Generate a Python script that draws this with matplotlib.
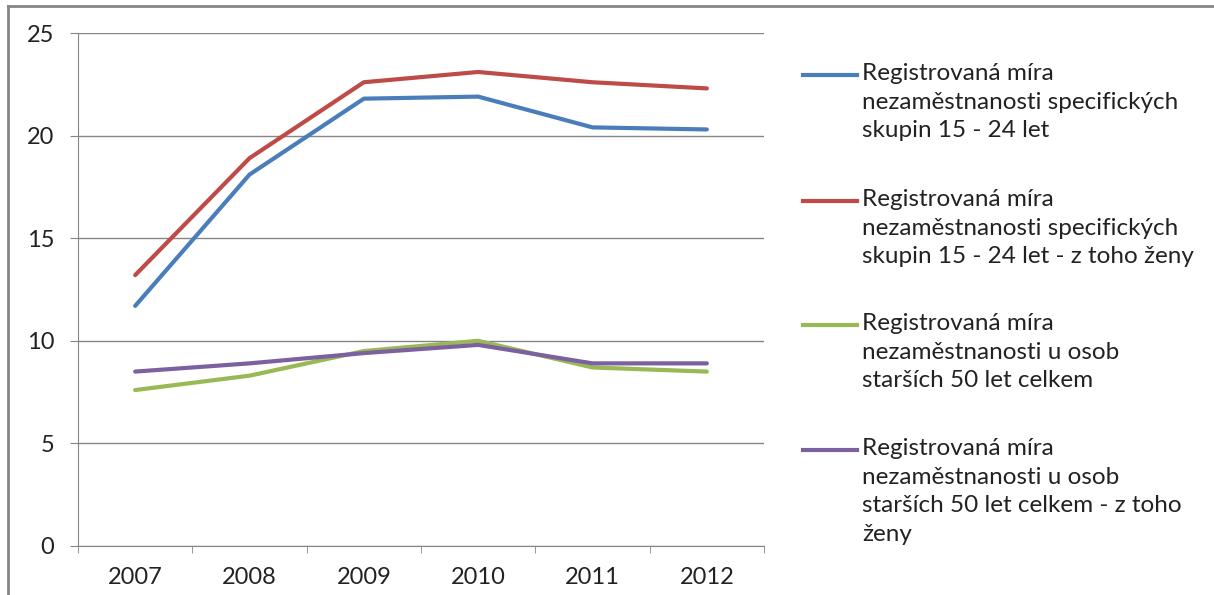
import matplotlib
matplotlib.use('Agg')
import matplotlib.pyplot as plt
from matplotlib.lines import Line2D

plt.rcParams['font.family'] = ['Lato', 'DejaVu Sans']

# data
years = ['2007', '2008', '2009', '2010', '2011', '2012']
mladi = [11.7, 18.1, 21.8, 21.9, 20.4, 20.3]
mladi_zeny = [13.2, 18.9, 22.6, 23.1, 22.6, 22.3]
starsi = [7.6, 8.3, 9.5, 10.0, 8.7, 8.5]
starsi_zeny = [8.5, 8.9, 9.4, 9.8, 8.9, 8.9]

labels = ['Registrovaná míra\nnezaměstnanosti specifických\nskupin 15 - 24 let',
          'Registrovaná míra\nnezaměstnanosti specifických\nskupin 15 - 24 let - z toho ženy',
          'Registrovaná míra\nnezaměstnanosti u osob\nstarších 50 let celkem',
          'Registrovaná míra\nnezaměstnanosti u osob\nstarších 50 let celkem - z toho\nženy']
colors = ['#4A7EBB', '#BE4B48', '#98B954', '#7D60A0']
series = [mladi, mladi_zeny, starsi, starsi_zeny]

W, H = 1214, 595
fig = plt.figure(figsize=(W / 100, H / 100), dpi=100)
ax = fig.add_axes([78 / W, 1 - 546 / H, (764 - 78) / W, (546 - 33) / H])

x = list(range(len(years)))
for s, c in zip(series, colors):
    ax.plot(x, s, color=c, lw=3, solid_capstyle='round', solid_joinstyle='round', zorder=3)

gray = '#868686'
txt = '#222222'
ax.set_xlim(-0.5, len(years) - 0.5)
ax.set_ylim(0, 25)
ax.set_yticks([0, 5, 10, 15, 20, 25])
ax.yaxis.grid(True, color=gray, lw=1)
ax.set_axisbelow(True)
ax.set_xticks(x)
ax.set_xticklabels(years)
ax.set_xticks([i - 0.5 for i in range(len(years) + 1)], minor=True)
ax.tick_params(axis='x', which='major', length=0, pad=15, labelsize=17, colors=txt)
ax.tick_params(axis='x', which='minor', length=5, direction='out', color=gray)
ax.tick_params(axis='y', length=6, direction='out', color=gray, pad=11, labelsize=17, labelcolor=txt)
for sp in ['top', 'right']:
    ax.spines[sp].set_visible(False)
ax.spines['left'].set_color(gray)
ax.spines['bottom'].set_color(gray)

# legend drawn by hand, handle next to first text line
tops = [75, 201, 325, 450]
for lab, c, yy in zip(labels, colors, tops):
    fig.add_artist(Line2D([803 / W, 857 / W], [1 - yy / H, 1 - yy / H], color=c, lw=3,
                          transform=fig.transFigure))
    fig.text(862 / W, 1 - (yy - 12) / H, lab, fontsize=17.5, va='top', ha='left',
             color=txt, linespacing=1.45)

# outer frame (top and left visible)
fig.add_artist(Line2D([8 / W, 8 / W], [0, 1 - 6 / H], color=gray, lw=2, transform=fig.transFigure))
fig.add_artist(Line2D([8 / W, 1], [1 - 6 / H, 1 - 6 / H], color=gray, lw=2, transform=fig.transFigure))

fig.savefig('out.png', dpi=100)
